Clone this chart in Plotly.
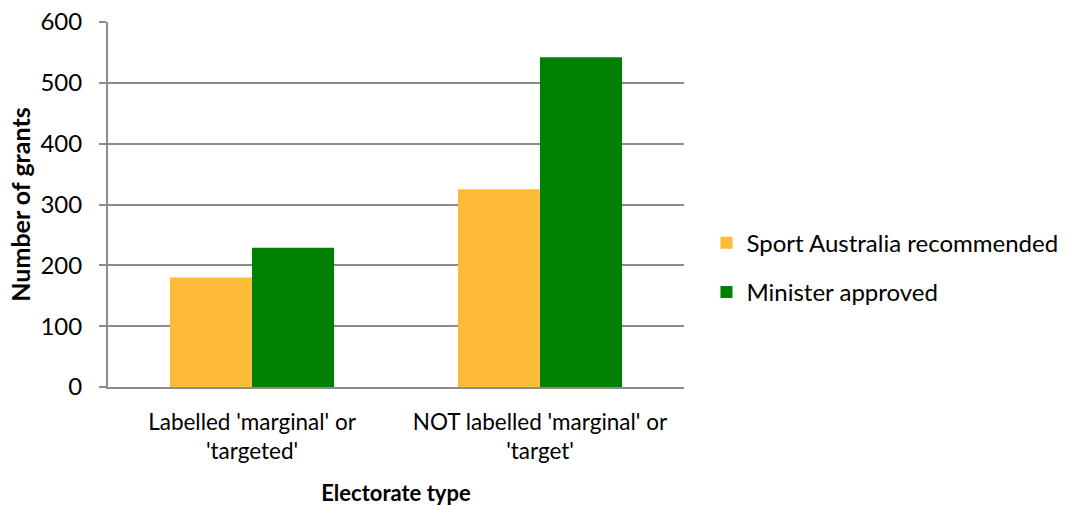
import plotly.graph_objects as go

# Grant counts by electorate type
categories = ["Labelled 'marginal' or<br>'targeted'", "NOT labelled 'marginal' or<br>'target'"]
series_names = ["Sport Australia recommended", "Minister approved"]
recommended = [180, 325]
approved = [229, 542]
y_ticks = [0, 100, 200, 300, 400, 500, 600]

colors = ["#FDBB37", "#008000"]
font_family = "Lato, 'Liberation Sans', sans-serif"
grid_color = "#8C8C8C"

fig = go.Figure()
for i, (name, vals) in enumerate(zip(series_names, [recommended, approved])):
    fig.add_trace(go.Bar(
        x=categories, y=vals, name=name,
        marker=dict(color=colors[i], line=dict(width=0)),
        legendgroup=name,
    ))

fig.update_layout(
    width=1074, height=506,
    margin=dict(l=108, r=390, t=22, b=119, autoexpand=False),
    paper_bgcolor="white", plot_bgcolor="white",
    barmode="group", bargap=0.43, bargroupgap=0,
    font=dict(family=font_family, size=22, color="#000000"),
    legend=dict(
        x=1.039, y=0.327, xanchor="left", yanchor="middle",
        font=dict(size=24, family=font_family),
        tracegroupgap=15, itemwidth=30,
    ),
    showlegend=True,
)
fig.update_xaxes(
    showline=True, linecolor=grid_color, linewidth=2,
    ticks="", tickfont=dict(size=22.5), ticklabelstandoff=14,
    title=dict(text="<b>Electorate type</b>", font=dict(size=22), standoff=28),
    automargin=False,
)
fig.update_yaxes(
    range=[0, 600], tickvals=y_ticks,
    showgrid=True, gridcolor=grid_color, gridwidth=2,
    showline=True, linecolor=grid_color, linewidth=2,
    ticks="outside", ticklen=7, tickcolor=grid_color, tickwidth=2,
    tickfont=dict(size=24), ticklabelstandoff=12,
    zeroline=False,
    title=dict(text="<b>Number of grants</b>", font=dict(size=25), standoff=3),
    automargin=False,
)

fig.write_html("out.html")
